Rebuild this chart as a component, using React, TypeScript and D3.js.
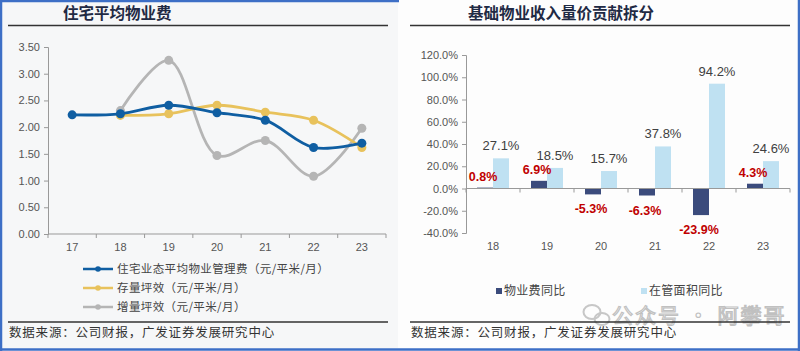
import React, { useEffect, useRef } from 'react'
import * as d3 from 'd3'

// left chart: 住宅平均物业费
const years1 = ['17', '18', '19', '20', '21', '22', '23']
const mgmtFee = [2.23, 2.25, 2.41, 2.27, 2.13, 1.62, 1.70]
const stockEff = [null, 2.22, 2.25, 2.41, 2.28, 2.13, 1.62]
const newEff = [null, 2.31, 3.25, 1.47, 1.75, 1.08, 1.98]
const feeTicks = [0, 0.5, 1, 1.5, 2, 2.5, 3, 3.5]
const lineNames = ['住宅业态平均物业管理费（元/平米/月）', '存量坪效（元/平米/月）', '增量坪效（元/平米/月）']

// right chart: 基础物业收入量价贡献拆分
const years2 = ['18', '19', '20', '21', '22', '23']
const feeYoY = [0.8, 6.9, -5.3, -6.3, -23.9, 4.3]
const areaYoY = [27.1, 18.5, 15.7, 37.8, 94.2, 24.6]
const pctTicks = [-40, -20, 0, 20, 40, 60, 80, 100, 120]
const barNames = ['物业费同比', '在管面积同比']

const CJK = '"Noto Sans CJK SC", sans-serif'
const NUM = '"Liberation Sans", Arial, sans-serif'
const source = '数据来源：公司财报，广发证券发展研究中心'

export default function App() {
  const ref = useRef<SVGSVGElement>(null)

  useEffect(() => {
    const svg = d3.select(ref.current)
    svg.selectAll('*').remove()

    // panels + frame
    svg.append('rect').attr('x', 0).attr('y', 0).attr('width', 800).attr('height', 351).attr('fill', '#fdfdfd')
    svg.append('rect').attr('x', 2).attr('y', 2).attr('width', 396).attr('height', 346).attr('fill', '#f6f7f8')
    svg.append('path').attr('d', 'M1,351 V1 H399 M0,349.5 H800 M799,351 V0')
      .attr('fill', 'none').attr('stroke', '#3d6fc6').attr('stroke-width', 2.5)

    // watermark (behind the rules and footer)
    const wm = svg.append('g').attr('opacity', 0.4)
    wm.append('ellipse').attr('cx', 592).attr('cy', 312).attr('rx', 8.5).attr('ry', 7)
      .attr('fill', 'none').attr('stroke', '#777').attr('stroke-width', 2)
    wm.append('ellipse').attr('cx', 602).attr('cy', 319).attr('rx', 7.5).attr('ry', 6)
      .attr('fill', 'none').attr('stroke', '#777').attr('stroke-width', 2)
    wm.append('text').attr('x', 612).attr('y', 323).text('公众号 · 阿攀哥')
      .attr('font-family', CJK).attr('font-size', 21).attr('letter-spacing', 2).attr('fill', 'none')
      .attr('stroke', '#666').attr('stroke-width', 1.2)

    const panel = (x0: number, x1: number, title: string, tx: number) => {
      svg.append('text').attr('x', tx).attr('y', 19).text(title)
        .attr('font-family', CJK).attr('font-weight', 'bold').attr('font-size', 15.5).attr('fill', '#1f2a44')
      svg.append('line').attr('x1', x0).attr('x2', x1).attr('y1', 25.5).attr('y2', 25.5)
        .attr('stroke', '#333').attr('stroke-width', 1.5)
      svg.append('line').attr('x1', x0).attr('x2', x1).attr('y1', 322).attr('y2', 322)
        .attr('stroke', '#333').attr('stroke-width', 1.5)
      svg.append('text').attr('x', x0 + 1).attr('y', 337).text(source)
        .attr('font-family', CJK).attr('font-size', 12.5).attr('fill', '#333').attr('letter-spacing', 0.8)
    }
    panel(8, 388, '住宅平均物业费', 63)
    panel(410, 790, '基础物业收入量价贡献拆分', 468)

    // ---------- left line chart ----------
    const x1 = d3.scaleBand().domain(years1).range([48, 386])
    const y1 = d3.scaleLinear().domain([0, 3.5]).range([234, 47])
    const g1 = svg.append('g')

    const yAx = g1.append('g').attr('transform', 'translate(48,0)')
      .call(d3.axisLeft(y1).tickValues(feeTicks).tickFormat(d3.format('.2f')).tickSize(4))
    yAx.selectAll('text').attr('font-family', NUM).attr('font-size', 11).attr('fill', '#555').attr('dx', -1)
    yAx.selectAll('line,path').attr('stroke', '#999')

    g1.append('line').attr('x1', 48).attr('x2', 386).attr('y1', y1(0)).attr('y2', y1(0)).attr('stroke', '#999')
    g1.selectAll('.tk1').data(d3.range(years1.length + 1)).enter().append('line')
      .attr('x1', i => 48 + i * x1.step()).attr('x2', i => 48 + i * x1.step())
      .attr('y1', y1(0)).attr('y2', y1(0) + 4).attr('stroke', '#999')
    g1.selectAll('.lb1').data(years1).enter().append('text')
      .attr('x', d => x1(d)! + x1.bandwidth() / 2).attr('y', 251).attr('text-anchor', 'middle')
      .attr('font-family', NUM).attr('font-size', 11).attr('fill', '#555').text(d => d)

    const series = [
      { vals: mgmtFee, color: '#0f5ea2' },
      { vals: stockEff, color: '#e8c25c' },
      { vals: newEff, color: '#b5b5b5' },
    ]
    const drawOrder = [2, 1, 0]
    drawOrder.forEach(si => {
      const s = series[si]
      const pts = years1.map((yr, i) => ({ yr, v: s.vals[i] })).filter(p => p.v != null) as { yr: string; v: number }[]
      const line = d3.line<{ yr: string; v: number }>()
        .x(p => x1(p.yr)! + x1.bandwidth() / 2).y(p => y1(p.v))
        .curve(d3.curveCatmullRom.alpha(0.5))
      g1.append('path').datum(pts).attr('d', line).attr('fill', 'none')
        .attr('stroke', s.color).attr('stroke-width', 2.8)
      g1.selectAll('.m' + si).data(pts).enter().append('circle')
        .attr('cx', p => x1(p.yr)! + x1.bandwidth() / 2).attr('cy', p => y1(p.v))
        .attr('r', 4.5).attr('fill', s.color)
    })

    // left legend
    lineNames.forEach((name, i) => {
      const ly = 269 + i * 19
      g1.append('line').attr('x1', 83).attr('x2', 113).attr('y1', ly).attr('y2', ly)
        .attr('stroke', series[i].color).attr('stroke-width', 2.5)
      g1.append('circle').attr('cx', 98).attr('cy', ly).attr('r', 2.8).attr('fill', series[i].color)
      g1.append('text').attr('x', 117).attr('y', ly + 4).text(name)
        .attr('font-family', CJK).attr('font-size', 11.5).attr('fill', '#444').attr('letter-spacing', 0.4)
    })

    // ---------- right bar chart ----------
    const x2 = d3.scaleBand().domain(years2).range([466, 790])
    const y2 = d3.scaleLinear().domain([-40, 120]).range([233, 55])
    const g2 = svg.append('g')
    const bw = 16

    const yAx2 = g2.append('g').attr('transform', 'translate(466,0)')
      .call(d3.axisLeft(y2).tickValues(pctTicks).tickFormat(d => (+d).toFixed(1) + '%').tickSize(4))
    yAx2.selectAll('text').attr('font-family', NUM).attr('font-size', 11).attr('fill', '#555').attr('dx', -1)
    yAx2.selectAll('line,path').attr('stroke', '#999')

    const cx = (d: string) => x2(d)! + x2.bandwidth() / 2

    g2.selectAll('.dark').data(years2).enter().append('rect')
      .attr('x', d => cx(d) - bw).attr('width', bw)
      .attr('y', (d, i) => y2(Math.max(0, feeYoY[i])))
      .attr('height', (d, i) => Math.abs(y2(feeYoY[i]) - y2(0)))
      .attr('fill', '#3b4b7c')
    g2.selectAll('.light').data(years2).enter().append('rect')
      .attr('x', d => cx(d)).attr('width', bw)
      .attr('y', (d, i) => y2(Math.max(0, areaYoY[i])))
      .attr('height', (d, i) => Math.abs(y2(areaYoY[i]) - y2(0)))
      .attr('fill', '#bfe1f2')

    g2.append('line').attr('x1', 466).attr('x2', 790).attr('y1', y2(0)).attr('y2', y2(0)).attr('stroke', '#999')
    g2.selectAll('.tk2').data(d3.range(years2.length + 1)).enter().append('line')
      .attr('x1', i => 466 + i * x2.step()).attr('x2', i => 466 + i * x2.step())
      .attr('y1', y2(0)).attr('y2', y2(0) + 4).attr('stroke', '#999')
    g2.selectAll('.lb2').data(years2).enter().append('text')
      .attr('x', d => cx(d)).attr('y', 250).attr('text-anchor', 'middle')
      .attr('font-family', NUM).attr('font-size', 11).attr('fill', '#555').text(d => d)

    g2.selectAll('.la').data(years2).enter().append('text')
      .attr('x', d => cx(d) + bw / 2).attr('y', (d, i) => y2(areaYoY[i]) - 8)
      .attr('text-anchor', 'middle').attr('font-family', NUM).attr('font-size', 13).attr('fill', '#404040')
      .text((d, i) => areaYoY[i].toFixed(1) + '%')
    g2.selectAll('.lf').data(years2).enter().append('text')
      .attr('x', d => cx(d) - bw / 2 - 2)
      .attr('y', (d, i) => feeYoY[i] >= 0 ? y2(feeYoY[i]) - 7 : y2(feeYoY[i]) + 19)
      .attr('text-anchor', 'middle').attr('font-family', NUM).attr('font-size', 12.5)
      .attr('font-weight', 'bold').attr('fill', '#c00000')
      .text((d, i) => feeYoY[i].toFixed(1) + '%')

    // right legend
    const legX = [496, 641]
    const legC = ['#3b4b7c', '#bfe1f2']
    barNames.forEach((name, i) => {
      g2.append('rect').attr('x', legX[i]).attr('y', 288).attr('width', 6).attr('height', 6).attr('fill', legC[i])
      g2.append('text').attr('x', legX[i] + 8).attr('y', 295).text(name)
        .attr('font-family', CJK).attr('font-size', 12).attr('fill', '#444').attr('letter-spacing', 0.3)
    })
  }, [])

  return (
    <svg ref={ref} width={800} height={351} style={{ position: 'absolute', left: 0, top: 0 }} />
  )
}
